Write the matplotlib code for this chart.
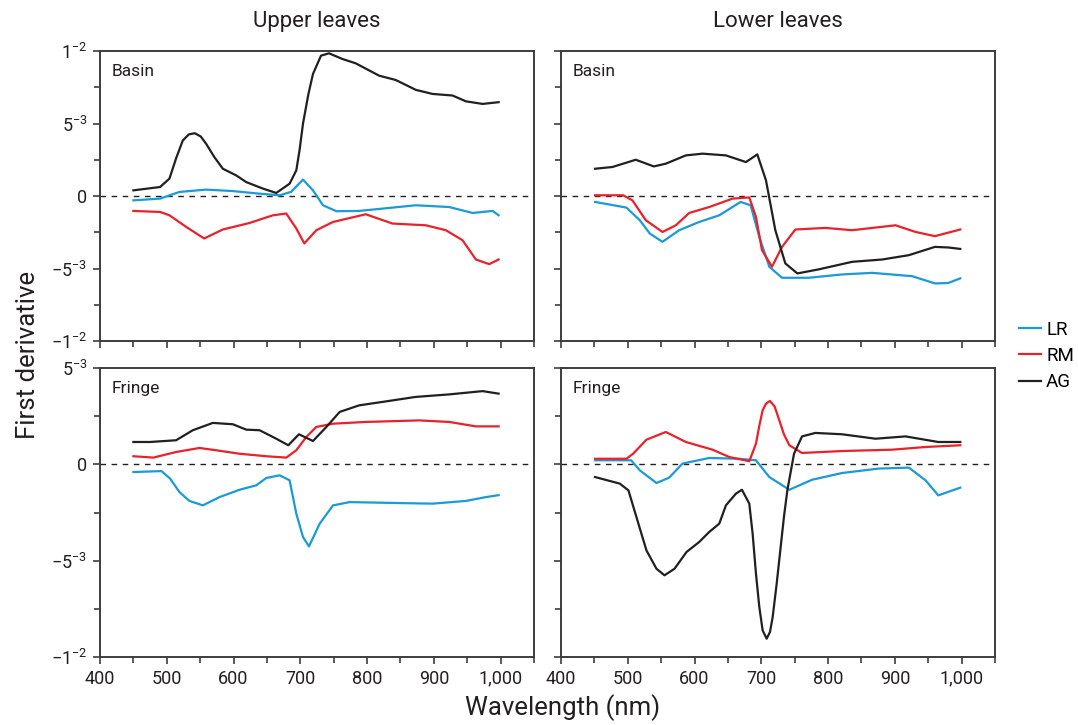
import numpy as np
import matplotlib
matplotlib.use("Agg")
import matplotlib.pyplot as plt
from matplotlib.lines import Line2D
from matplotlib.ticker import MultipleLocator, FixedLocator

plt.rcParams['font.family'] = ['Roboto', 'DejaVu Sans']
plt.rcParams['mathtext.default'] = 'regular'

# values in units of 1e-3
# upper leaves, basin
ub_lr_x = [450, 490, 519, 559, 599, 639, 669, 686, 704, 719, 734, 754, 788, 823, 873, 923, 958, 988, 997]
ub_lr_y = [-0.3, -0.18, 0.28, 0.44, 0.34, 0.16, 0.05, 0.28, 1.13, 0.39, -0.64, -1.05, -1.03, -0.87, -0.64, -0.76, -1.17, -1.03, -1.33]
ub_rm_x = [450, 490, 504, 529, 556, 584, 624, 659, 679, 694, 706, 724, 749, 798, 838, 888, 918, 943, 963, 983, 997]
ub_rm_y = [-1.03, -1.1, -1.33, -2.13, -2.93, -2.31, -1.86, -1.33, -1.21, -2.24, -3.27, -2.36, -1.79, -1.26, -1.9, -2.02, -2.36, -3.05, -4.38, -4.7, -4.38]
ub_ag_x = [450, 490, 504, 514, 524, 533, 542, 551, 559, 571, 584, 604, 619, 644, 664, 684, 694, 699, 704, 712, 719, 731, 743, 763, 783, 818, 843, 873, 898, 928, 948, 973, 997]
ub_ag_y = [0.39, 0.62, 1.2, 2.6, 3.83, 4.25, 4.33, 4.1, 3.6, 2.7, 1.88, 1.42, 0.96, 0.51, 0.21, 0.85, 1.77, 3.2, 4.98, 7.0, 8.42, 9.68, 9.84, 9.45, 9.15, 8.3, 8.0, 7.32, 7.04, 6.93, 6.53, 6.35, 6.47]

# lower leaves, basin
lb_lr_x = [451, 498, 518, 533, 552, 577, 607, 637, 669, 684, 697, 712, 731, 771, 821, 866, 926, 960, 980, 998]
lb_lr_y = [-0.41, -0.8, -1.67, -2.59, -3.16, -2.36, -1.79, -1.33, -0.41, -0.64, -2.82, -4.88, -5.64, -5.64, -5.41, -5.3, -5.53, -6.03, -6.0, -5.68]
lb_rm_x = [451, 493, 507, 527, 552, 572, 592, 622, 657, 682, 692, 701, 716, 731, 751, 796, 836, 901, 931, 960, 998]
lb_rm_y = [0.05, 0.05, -0.3, -1.67, -2.48, -2.02, -1.17, -0.76, -0.18, -0.1, -1.44, -3.73, -4.88, -3.51, -2.31, -2.2, -2.36, -2.02, -2.48, -2.77, -2.31]
lb_ag_x = [451, 477, 512, 539, 557, 587, 612, 647, 677, 694, 707, 721, 736, 754, 786, 836, 881, 921, 960, 980, 998]
lb_ag_y = [1.88, 2.0, 2.5, 2.04, 2.23, 2.8, 2.92, 2.8, 2.34, 2.87, 1.08, -2.36, -4.65, -5.34, -5.06, -4.54, -4.38, -4.08, -3.51, -3.55, -3.65]

# upper leaves, fringe
uf_lr_x = [450, 492, 505, 519, 534, 554, 579, 609, 634, 649, 669, 684, 694, 704, 713, 729, 749, 774, 848, 898, 948, 978, 997]
uf_lr_y = [-0.4, -0.35, -0.74, -1.44, -1.9, -2.13, -1.7, -1.32, -1.09, -0.71, -0.57, -0.83, -2.56, -3.77, -4.26, -3.08, -2.13, -1.96, -2.01, -2.04, -1.9, -1.7, -1.6]
uf_rm_x = [450, 480, 514, 549, 574, 609, 649, 679, 694, 709, 724, 749, 798, 878, 923, 963, 997]
uf_rm_y = [0.42, 0.35, 0.64, 0.85, 0.73, 0.55, 0.42, 0.35, 0.73, 1.42, 1.94, 2.11, 2.2, 2.28, 2.2, 1.97, 1.97]
uf_ag_x = [450, 475, 514, 539, 569, 599, 619, 639, 664, 682, 698, 719, 739, 759, 788, 823, 873, 923, 973, 997]
uf_ag_y = [1.16, 1.16, 1.25, 1.77, 2.15, 2.08, 1.8, 1.77, 1.33, 0.99, 1.56, 1.21, 1.94, 2.72, 3.06, 3.24, 3.5, 3.63, 3.8, 3.67]

# lower leaves, fringe
lf_lr_x = [451, 505, 518, 543, 562, 582, 622, 667, 692, 712, 742, 776, 821, 876, 921, 946, 965, 998]
lf_lr_y = [0.21, 0.21, -0.31, -0.97, -0.69, 0.04, 0.33, 0.29, 0.21, -0.66, -1.32, -0.8, -0.45, -0.22, -0.17, -0.83, -1.61, -1.21]
lf_rm_x = [451, 498, 508, 528, 557, 587, 627, 652, 682, 692, 697, 702, 707, 713, 720, 727, 734, 742, 761, 821, 896, 946, 998]
lf_rm_y = [0.29, 0.29, 0.55, 1.28, 1.68, 1.16, 0.76, 0.38, 0.16, 1.07, 2.0, 2.8, 3.15, 3.29, 3.0, 2.28, 1.55, 0.99, 0.59, 0.69, 0.76, 0.9, 0.99]
lf_ag_x = [451, 488, 501, 513, 528, 543, 555, 570, 588, 607, 622, 637, 647, 662, 671, 682, 687, 692, 697, 702, 708, 713, 717, 723, 729, 734, 739, 749, 761, 781, 821, 871, 916, 965, 998]
lf_ag_y = [-0.66, -1.0, -1.35, -2.74, -4.47, -5.42, -5.76, -5.42, -4.55, -4.03, -3.51, -3.08, -2.13, -1.52, -1.32, -2.04, -3.6, -5.68, -7.4, -8.62, -9.05, -8.7, -7.93, -6.2, -4.29, -2.7, -1.35, 0.55, 1.45, 1.63, 1.56, 1.33, 1.45, 1.16, 1.16]

series_names = ['LR', 'RM', 'AG']
colors = ['#1b9ad6', '#e8212b', '#231f20']
col_titles = ['Upper leaves', 'Lower leaves']
row_labels = ['Basin', 'Fringe']

panels = [
    [[(ub_lr_x, ub_lr_y), (ub_rm_x, ub_rm_y), (ub_ag_x, ub_ag_y)],
     [(lb_lr_x, lb_lr_y), (lb_rm_x, lb_rm_y), (lb_ag_x, lb_ag_y)]],
    [[(uf_lr_x, uf_lr_y), (uf_rm_x, uf_rm_y), (uf_ag_x, uf_ag_y)],
     [(lf_lr_x, lf_lr_y), (lf_rm_x, lf_rm_y), (lf_ag_x, lf_ag_y)]],
]

ytick_vals = [[-10, -5, 0, 5, 10], [-10, -5, 0, 5]]
ytick_text = [[r'$-1^{-2}$', r'$-5^{-3}$', '0', r'$5^{-3}$', r'$1^{-2}$'],
              [r'$-1^{-2}$', r'$-5^{-3}$', '0', r'$5^{-3}$']]
ylims = [(-10, 10), (-10, 5)]

fig = plt.figure(figsize=(10.78, 7.25), dpi=100)
W, H = 1078, 725
lefts = [100, 561]
tops = [51, 368]
bottoms = [341, 657]
spine_col = '#3d3d3d'
text_col = '#231f20'

for r in range(2):
    for c in range(2):
        ax = fig.add_axes([lefts[c] / W, (H - bottoms[r]) / H, 434 / W, (bottoms[r] - tops[r]) / H])
        ax.axhline(0, color=text_col, lw=1.0, ls=(0, (4, 4)), zorder=1)
        for (xs, ys), col in zip(panels[r][c], colors):
            ax.plot(xs, np.array(ys), color=col, lw=1.6, zorder=2)
        ax.set_xlim(400, 1050)
        ax.set_ylim(*ylims[r])
        ax.xaxis.set_major_locator(FixedLocator([400, 500, 600, 700, 800, 900, 1000]))
        ax.xaxis.set_minor_locator(MultipleLocator(50))
        ax.set_yticks(ytick_vals[r])
        ax.yaxis.set_minor_locator(MultipleLocator(2.5))
        if c == 0:
            ax.set_yticklabels(ytick_text[r])
        else:
            ax.set_yticklabels([])
        if r == 1:
            ax.set_xticklabels(['400', '500', '600', '700', '800', '900', '1,000'])
        else:
            ax.set_xticklabels([])
        ax.tick_params(which='both', direction='out', color=spine_col, width=1.2,
                       labelsize=13, labelcolor=text_col, pad=4)
        ax.tick_params(which='major', length=5)
        ax.tick_params(which='minor', length=4)
        for sp in ax.spines.values():
            sp.set_color(spine_col)
            sp.set_linewidth(1.4)
        ax.text(12 / 434, 1 - 21 / (bottoms[r] - tops[r]), row_labels[r], transform=ax.transAxes,
                ha='left', va='center', fontsize=12.5, color=text_col)
        if r == 0:
            ax.set_title(col_titles[c], fontsize=16, color=text_col, pad=17)

fig.text(28 / W, 1 - 355 / H, 'First derivative', rotation=90, ha='center', va='center',
         fontsize=18.5, color=text_col)
fig.text(563 / W, 1 - 708 / H, 'Wavelength (nm)', ha='center', va='center',
         fontsize=18.5, color=text_col)

handles = [Line2D([0], [0], color=col, lw=1.6) for col in colors]
fig.legend(handles, series_names, loc='center left', bbox_to_anchor=(1019 / W, 1 - 356 / H),
           frameon=False, fontsize=13.5, handlelength=1.15, handletextpad=0.3,
           labelspacing=0.45, borderpad=0, borderaxespad=0)

fig.savefig('out.png', dpi=100)
